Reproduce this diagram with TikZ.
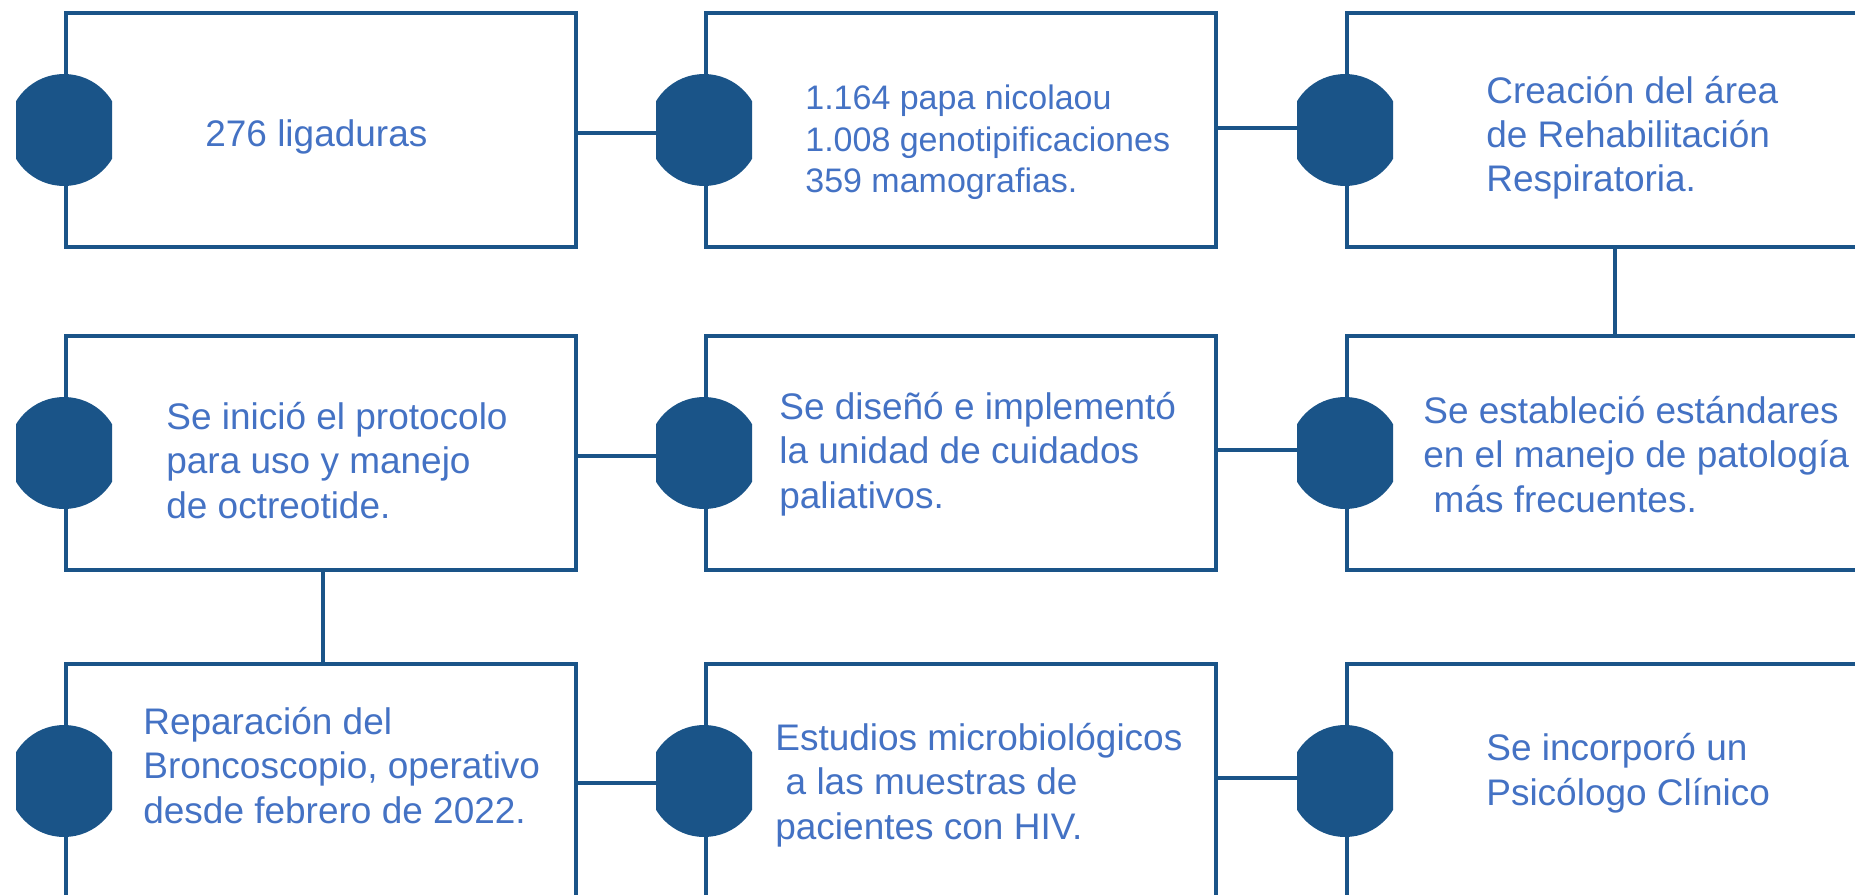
\documentclass[tikz,border=0pt]{standalone}
\usepackage{fontspec}
\setmainfont{Liberation Sans}
\definecolor{azul}{HTML}{1A5488}
\definecolor{azultexto}{HTML}{4472C4}

\begin{document}
\begin{tikzpicture}[x=0.02cm, y=-0.02cm,
    caja/.style={draw=azul, line width=0.08cm, fill=white,
        minimum width=10.2cm, minimum height=4.67cm, inner sep=0pt},
    pastilla/.style={minimum width=1.92cm, minimum height=2.24cm, inner sep=0pt,
        path picture={\fill[azul] (path picture bounding box.center) circle (1.12cm);}},
    texto/.style={text=azultexto, anchor=base west, align=left, inner sep=0pt,
        font=\fontsize{21.05}{25.3}\selectfont},
    enlace/.style={draw=azul, line width=0.08cm}]
    \path[use as bounding box, clip] (0,0) rectangle (1855,895);

    % 1. Cajas
    \node[caja] (c1) at (321,130) {};
    \node[caja] (c2) at (961,130) {};
    \node[caja] (c3) at (1602,130) {};
    \node[caja] (c4) at (321,453) {};
    \node[caja] (c5) at (961,453) {};
    \node[caja] (c6) at (1602,453) {};
    \node[caja] (c7) at (321,781) {};
    \node[caja] (c8) at (961,781) {};
    \node[caja] (c9) at (1602,781) {};

    % 2. Pastillas
    \foreach \i in {1,...,9}
        \node[pastilla] (p\i) at (c\i.west) {};

    % 3. Enlaces
    \draw[enlace] ([yshift=-0.06cm]c1.east) -- ([yshift=-0.06cm]p2.west);
    \draw[enlace] ([yshift=0.04cm]c2.east) -- ([yshift=0.04cm]p3.west);
    \draw[enlace] ([yshift=-0.06cm]c4.east) -- ([yshift=-0.06cm]p5.west);
    \draw[enlace] ([yshift=0.06cm]c5.east) -- ([yshift=0.06cm]p6.west);
    \draw[enlace] ([yshift=-0.04cm]c7.east) -- ([yshift=-0.04cm]p8.west);
    \draw[enlace] ([yshift=0.06cm]c8.east) -- ([yshift=0.06cm]p9.west);
    \draw[enlace] ([xshift=0.26cm]c3.south) -- ([xshift=0.26cm]c6.north);
    \draw[enlace] ([xshift=0.04cm]c4.south) -- ([xshift=0.04cm]c7.north);

    % 4. Textos (base = ultima linea)
    \node[texto] (t1) at (205,147) {276 ligaduras};
    \node[texto, font=\fontsize{19.35}{23.9}\selectfont] (t2) at (805,193)
        {1.164 papa nicolaou\\1.008 genotipificaciones\\359 mamografias.};
    \node[texto] (t3) at (1486,192)
        {Creación del área\\de Rehabilitación\\Respiratoria.};
    \node[texto] (t4) at (166,518)
        {Se inició el protocolo\\para uso y manejo\\de octreotide.};
    \node[texto] (t5) at (779,508)
        {Se diseñó e implementó\\la unidad de cuidados\\paliativos.};
    \node[texto] (t6) at (1423,512)
        {Se estableció estándares\\en el manejo de patología\\\hspace*{0.28em}más frecuentes.};
    \node[texto] (t7) at (143,823)
        {Reparación del\\Broncoscopio, operativo\\desde febrero de 2022.};
    \node[texto] (t8) at (775,839)
        {Estudios microbiológicos\\\hspace*{0.28em}a las muestras de\\pacientes con HIV.};
    \node[texto] (t9) at (1486,805)
        {Se incorporó un\\Psicólogo Clínico};
\end{tikzpicture}
\end{document}
